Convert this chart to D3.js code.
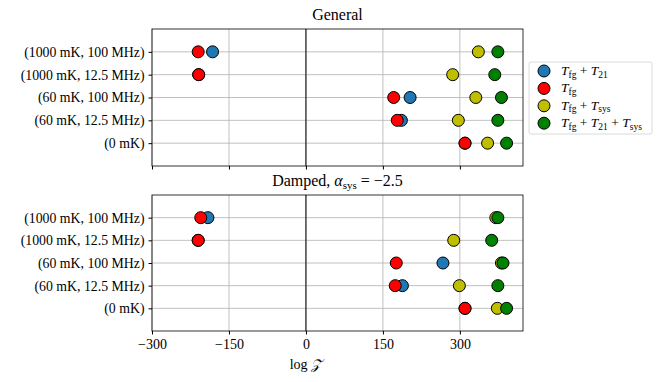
<!DOCTYPE html>
<html>
<head>
<script src="https://d3js.org/d3.v7.min.js"></script>
<style>
  body { margin: 0; background: #fff; }
  text { font-family: "Liberation Serif", "DejaVu Serif", serif; }
</style>
</head>
<body>
<svg id="chart" width="662" height="382"></svg>
<script>
// rows, top to bottom
var categories = ["(1000 mK, 100 MHz)", "(1000 mK, 12.5 MHz)", "(60 mK, 100 MHz)", "(60 mK, 12.5 MHz)", "(0 mK)"];
var seriesNames = ["fg21", "fg", "fgsys", "fg21sys"];
var seriesColors = ["#1f77b4", "#ff0000", "#bfbf00", "#008000"];

// General panel, log Z per row
var generalFg21    = [-182, -209, 203, 186, 310];
var generalFg      = [-210, -209, 171, 178, 310];
var generalFgSys   = [336, 286, 331, 297, 354];
var generalFg21Sys = [374, 368, 381, 374, 391];

// Damped panel
var dampedFg21    = [-191, -210, 267, 188, 310];
var dampedFg      = [-205, -210, 176, 174, 310];
var dampedFgSys   = [370, 288, 381, 299, 373];
var dampedFg21Sys = [374, 362, 384, 374, 391];

var xTicks = [-300, -150, 0, 150, 300];

var svg = d3.select("#chart");
var left = 152, right = 523;
var x = d3.scaleLinear().domain([-300, 423]).range([left, right]);

var panels = [
  {top: 29, bottom: 166, title: "general", data: [generalFg21, generalFg, generalFgSys, generalFg21Sys], labels: false},
  {top: 195, bottom: 331, title: "damped", data: [dampedFg21, dampedFg, dampedFgSys, dampedFg21Sys], labels: true}
];

panels.forEach(function(p) {
  var y = d3.scaleLinear().domain([-1, 5]).range([p.top, p.bottom]);
  var g = svg.append("g");

  // grid
  g.selectAll(".vg").data(xTicks).join("line")
    .attr("x1", d => x(d)).attr("x2", d => x(d))
    .attr("y1", p.top).attr("y2", p.bottom)
    .attr("stroke", "#b0b0b0").attr("stroke-width", 0.8);
  g.selectAll(".hg").data(categories).join("line")
    .attr("x1", left).attr("x2", right)
    .attr("y1", (d, i) => y(i)).attr("y2", (d, i) => y(i))
    .attr("stroke", "#b0b0b0").attr("stroke-width", 0.8);
  // zero line
  g.append("line").attr("x1", x(0)).attr("x2", x(0))
    .attr("y1", p.top).attr("y2", p.bottom)
    .attr("stroke", "#000").attr("stroke-width", 1);

  // points
  p.data.forEach(function(vals, s) {
    g.selectAll(".pt" + s).data(vals).join("circle")
      .attr("cx", d => x(d)).attr("cy", (d, i) => y(i))
      .attr("r", 6).attr("fill", seriesColors[s])
      .attr("stroke", "#000").attr("stroke-width", 1);
  });

  // frame
  g.append("rect").attr("x", left).attr("y", p.top)
    .attr("width", right - left).attr("height", p.bottom - p.top)
    .attr("fill", "none").attr("stroke", "#000").attr("stroke-width", 0.8);

  // y axis
  var ya = d3.axisLeft(y)
    .tickValues([0, 1, 2, 3, 4]).tickFormat((d) => categories[d]).tickSize(3.5).tickPadding(4);
  var yg = g.append("g").attr("transform", "translate(" + left + ",0)").call(ya);
  yg.select(".domain").remove();
  yg.selectAll("text").attr("font-size", 13.8).attr("font-family", "Liberation Serif");

  // x axis
  var xa = d3.axisBottom(x).tickValues(xTicks).tickSize(3.5).tickPadding(5)
    .tickFormat(d => p.labels ? (d < 0 ? "\u2212" + Math.abs(d) : d) : "");
  var xg = g.append("g").attr("transform", "translate(0," + p.bottom + ")").call(xa);
  xg.select(".domain").remove();
  xg.selectAll("text").attr("font-size", 14).attr("font-family", "Liberation Serif");

  // title
  var t = svg.append("text").attr("x", (left + right) / 2).attr("y", p.top - 9)
    .attr("text-anchor", "middle").attr("font-size", 16);
  if (p.title === "general") {
    t.text("General");
  } else {
    t.append("tspan").text("Damped, ");
    t.append("tspan").attr("font-style", "italic").text("\u03B1");
    t.append("tspan").attr("font-size", 11).attr("dy", 3).text("sys");
    t.append("tspan").attr("dy", -3).text(" = \u22122.5");
  }
});

// x label
var xl = svg.append("text").attr("x", x(0)).attr("y", 369).attr("text-anchor", "middle").attr("font-size", 14);
xl.append("tspan").text("log ");
xl.append("tspan").attr("font-style", "italic").text("\uD835\uDCB5");

// legend
var lg = svg.append("g");
lg.append("rect").attr("x", 529).attr("y", 62).attr("width", 123).attr("height", 72)
  .attr("rx", 2).attr("fill", "#fff").attr("stroke", "#d0d0d0").attr("stroke-width", 0.8);
var legendLabels = [
  [["T", "i"], ["fg", "s"], [" + ", ""], ["T", "i"], ["21", "s"]],
  [["T", "i"], ["fg", "s"]],
  [["T", "i"], ["fg", "s"], [" + ", ""], ["T", "i"], ["sys", "s"]],
  [["T", "i"], ["fg", "s"], [" + ", ""], ["T", "i"], ["21", "s"], [" + ", ""], ["T", "i"], ["sys", "s"]]
];
seriesColors.forEach(function(c, i) {
  var yy = 71 + i * 17.4;
  lg.append("circle").attr("cx", 544).attr("cy", yy).attr("r", 6)
    .attr("fill", c).attr("stroke", "#000").attr("stroke-width", 1);
  var tx = lg.append("text").attr("x", 561).attr("y", yy + 4).attr("font-size", 13.5);
  var sub = false;
  legendLabels[i].forEach(function(part) {
    var ts = tx.append("tspan").text(part[0]);
    if (part[1] === "i") ts.attr("font-style", "italic");
    if (part[1] === "s") { ts.attr("font-size", 9.5).attr("dy", sub ? 0 : 2.5); sub = true; }
    else if (sub) { ts.attr("dy", -2.5); sub = false; }
  });
});
</script>
</body>
</html>
